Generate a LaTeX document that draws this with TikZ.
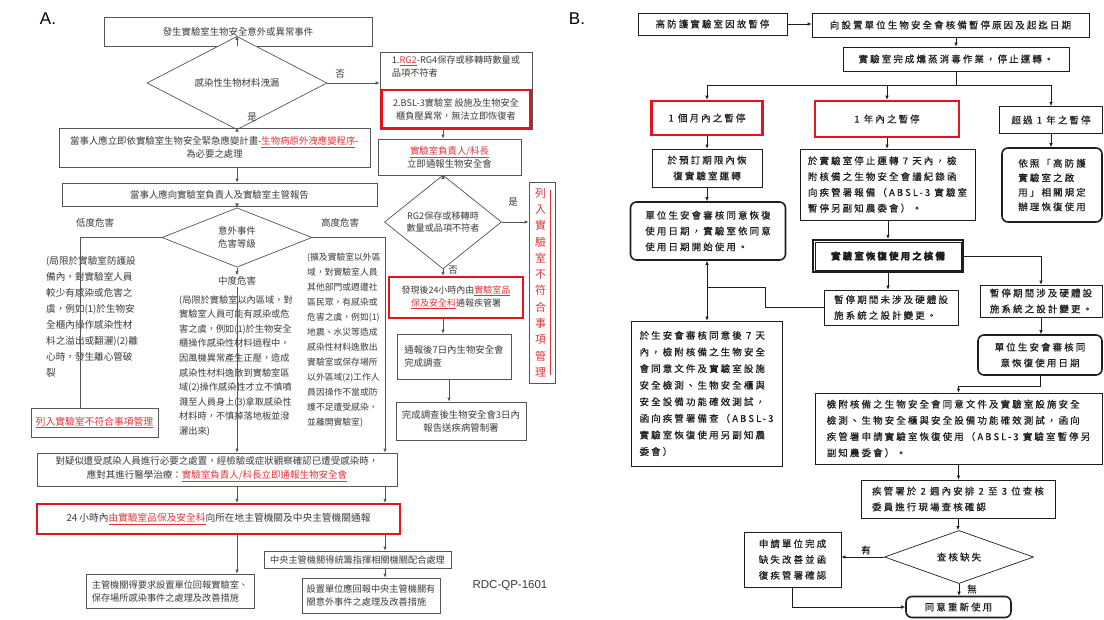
\documentclass[tikz,border=0pt]{standalone}
\usepackage{fontspec}
\setmainfont{Noto Sans CJK TC}
\newfontfamily\bfnt{Noto Sans CJK TC}[LetterSpace=22,FakeBold=0.4]
\newfontfamily\latn{Liberation Sans}
\usetikzlibrary{arrows.meta,shapes.geometric,calc}
\definecolor{redb}{HTML}{E3141B}
\definecolor{redt}{HTML}{E0353B}
\definecolor{tgray}{HTML}{3C3C3C}
\definecolor{lgray}{HTML}{555555}
\definecolor{bink}{HTML}{1E1E1E}
\newcommand{\rdu}[1]{{\color{redt}\underline{#1}}}
\begin{document}
\begin{tikzpicture}[x=1pt,y=-1pt,
 abox/.style={draw=lgray, line width=0.7pt, fill=white, inner sep=1pt, text=tgray, font=\fontsize{9.4}{13}\selectfont, align=center},
 redbox/.style={abox, draw=redb, line width=2.2pt},
 adia/.style={diamond, draw=lgray, line width=0.7pt, fill=white, inner sep=0pt, text=tgray, font=\fontsize{9.4}{13}\selectfont, align=center},
 aarr/.style={draw=lgray, line width=0.7pt, -{Latex[length=4pt,width=3.5pt]}},
 aline/.style={draw=lgray, line width=0.7pt},
 atxt/.style={text=tgray, align=left, inner sep=0pt},
 lbl/.style={text=tgray, font=\fontsize{9.5}{12}\selectfont, inner sep=0pt},
 bbox/.style={draw=bink, line width=0.7pt, fill=white, inner sep=1pt, text=bink, font=\bfnt\fontsize{9.5}{15.8}\selectfont, align=center},
 bred/.style={bbox, draw=redb, line width=2.6pt},
 bround/.style={bbox, rounded corners=6pt, line width=1.6pt},
 bdia/.style={diamond, draw=bink, line width=0.7pt, fill=white, inner sep=0pt, text=bink, font=\bfnt\fontsize{9.5}{15.8}\selectfont},
 barr/.style={draw=bink, line width=0.7pt, -{Latex[length=4pt,width=3.5pt]}},
 bline/.style={draw=bink, line width=0.7pt},
 blbl/.style={text=bink, font=\bfnt\fontsize{9.5}{12}\selectfont, inner sep=0pt}
]
\fill[white] (0,0) rectangle (1104,619);
\useasboundingbox (0,0) rectangle (1104,619);

% ---------------- Panel A ----------------
\node[font=\latn\fontsize{17}{17}\selectfont, text=black] (lblA) at (48,19) {A.};
\node[abox, minimum width=268, minimum height=29] (top) at (238,31.5) {發生實驗室生物安全意外或異常事件};
\node[adia, minimum width=180, minimum height=46] (d1) at (237,83) {感染性生物材料洩漏};
\node[abox, minimum width=152, minimum height=77] (rgout) at (456,90.5) {};
\node[atxt, anchor=north, font=\fontsize{9.2}{12.8}\selectfont] (rg1) at ($(rgout.north)+(0,4)$) {1.\rdu{RG2}-RG4保存或移轉時數量或\\品項不符者};
\node[redbox, minimum width=149, minimum height=38, font=\fontsize{9.2}{13}\selectfont] (rb1) at (456,109) {2.BSL-3實驗室 設施及生物安全\\櫃負壓異常，無法立即恢復者};
\node[abox, minimum width=311, minimum height=39] (act1) at (214.5,147.5) {當事人應立即依實驗室生物安全緊急應變計畫-\rdu{生物病原外洩應變程序}-\\為必要之處理};
\node[abox, minimum width=143, minimum height=36] (chief) at (449.5,157) {\rdu{實驗室負責人/科長}\\立即通報生物安全會};
\node[abox, minimum width=315, minimum height=23] (rep0) at (219.5,194.5) {當事人應向實驗室負責人及實驗室主管報告};
\node[adia, minimum width=150, minimum height=51] (d2) at (237,237.5) {意外事件\\危害等級};
\node[adia, minimum width=117, minimum height=71, font=\fontsize{9.1}{12.6}\selectfont] (d3) at (443,222) {RG2保存或移轉時\\數量或品項不符者};
\node[abox, minimum width=26, minimum height=201] (vert) at (542,282.5) {};
\node[text=redt, font=\fontsize{11}{16.3}\selectfont, align=center, inner sep=0pt] (vtxt) at (540.5,282.5) {列\\入\\實\\驗\\室\\不\\符\\合\\事\\項\\管\\理};
\draw[redt, line width=0.6pt] ($(vert.north east)+(-5.5,8)$) -- ($(vert.south east)+(-5.5,-8)$);
\node[redbox, minimum width=134, minimum height=41, font=\fontsize{9}{13}\selectfont] (r24h) at (456,297.5) {發現後24小時內由\rdu{實驗室品}\\\rdu{保及安全科}通報疾管署};
\node[abox, align=left, minimum width=114, minimum height=45] (inv) at (454,356.5) {通報後7日內生物安全會\\完成調查};
\node[abox, minimum width=130, minimum height=38] (rep) at (461,421) {完成調查後生物安全會3日內\\報告送疾病管制署};
\node[abox, minimum width=127, minimum height=29, font=\fontsize{9.8}{13}\selectfont] (nonc) at (94.5,422.5) {\rdu{列入實驗室不符合事項管理}};

\node[atxt, anchor=north west, font=\fontsize{9.6}{16}\selectfont] (lowt) at (46,256) {(局限於實驗室防護設\\備內，對實驗室人員\\較少有感染或危害之\\虞，例如(1)於生物安\\全櫃內操作感染性材\\料之溢出或翻灑)(2)離\\心時，發生離心管破\\裂};
\node[atxt, anchor=north west, font=\fontsize{9.2}{14.6}\selectfont] (midt) at (179,295) {(局限於實驗室以內區域，對\\實驗室人員可能有感染或危\\害之虞，例如(1)於生物安全\\櫃操作感染性材料過程中，\\因風機異常產生正壓，造成\\感染性材料逸散到實驗室區\\域(2)操作感染性才立不慎噴\\濺至人員身上(3)拿取感染性\\材料時，不慎掉落地板並潑\\灑出來)};
\node[atxt, anchor=north west, font=\fontsize{8.8}{15}\selectfont] (hight) at (307,253) {(擴及實驗室以外區\\域，對實驗室人員\\其他部門或週遭社\\區民眾，有感染或\\危害之虞，例如(1)\\地震、水災等造成\\感染性材料逸散出\\實驗室或保存場所\\以外區域(2)工作人\\員因操作不當或防\\護不足遭受感染，\\並離開實驗室)};

\node[abox, minimum width=360, minimum height=33, font=\fontsize{9.5}{13.5}\selectfont] (inf) at (217,469.5) {對疑似遭受感染人員進行必要之處置，經檢驗或症狀觀察確認已遭受感染時，\\應對其進行醫學治療：\rdu{實驗室負責人/科長立即通報生物安全會}};
\node[redbox, minimum width=363, minimum height=30, font=\fontsize{9.7}{13}\selectfont] (r24) at (218.5,519) {24 小時內\rdu{由實驗室品保及安全科}向所在地主管機關及中央主管機關通報};
\node[abox, align=left, minimum width=168, minimum height=34, font=\fontsize{9.2}{13}\selectfont] (gov1) at (170,591) {主管機關得要求設置單位回報實驗室、\\保存場所感染事件之處理及改善措施};
\node[abox, minimum width=187, minimum height=17, inner sep=0.5pt, font=\fontsize{9.2}{13}\selectfont] (gov2) at (357.5,559.5) {中央主管機關得統籌指揮相關機關配合處理};
\node[abox, align=left, minimum width=138, minimum height=35, font=\fontsize{9.2}{13}\selectfont] (gov3) at (371,595.5) {設置單位應回報中央主管機關有\\關意外事件之處理及改善措施};
\node[font=\latn\fontsize{11.5}{12}\selectfont, text=tgray] (rdc) at (510,586) {RDC-QP-1601};

\node[lbl] (lno1) at (340,74) {否};
\node[lbl] (lyes1) at (252,117) {是};
\node[lbl] (lyes2) at (513,202) {是};
\node[lbl] (lno2) at (453,270) {否};
\node[lbl] (llow) at (95,223) {低度危害};
\node[lbl] (lhigh) at (340,223) {高度危害};
\node[lbl, fill=white, inner sep=1pt] (lmid) at (237,281) {中度危害};

\coordinate (cr) at (443,0);
\coordinate (cr3) at (449,0);
\coordinate (cm) at (237,0);
\coordinate (hl) at (80,237.5);
\coordinate (hr) at (385,237.5);
\draw[aarr] (top.south -| d1.north) -- (d1.north);
\draw[aarr] (d1.east) -- (d1.east -| rgout.west);
\draw[aarr] (d1.south) -- (d1.south |- act1.north);
\draw[aarr] (d1.south |- act1.south) -- (d1.south |- rep0.north);
\draw[aarr] (d2.north |- rep0.south) -- (d2.north);
\draw[aarr] (cr |- rgout.south) -- (cr |- chief.north);
\draw[aarr] (cr |- chief.south) -- (d3.north);
\draw[aarr] (d3.east) -- (d3.east -| vert.west);
\draw[aarr] (d3.south) -- (d3.south |- r24h.north);
\draw[aarr] (cr |- r24h.south) -- (cr |- inv.north);
\draw[aarr] (cr3 |- inv.south) -- (cr3 |- rep.north);
\draw[aline] (d2.west) -- (hl) -- (hl |- nonc.north);
\draw[aarr] (d2.east) -- (hr) -- (hr |- inf.north);
\draw[aarr] (d2.south) -- (lmid.north);
\draw[aarr] (lmid.south) -- (lmid.south |- inf.north);
\draw[aarr] (cm |- inf.south) -- (cm |- r24.north);
\draw[aarr] (hr |- inf.south) -- (hr |- r24.north);
\draw[aarr] (cm |- r24.south) -- (cm |- gov1.north);
\draw[aarr] (hr |- r24.south) -- (hr |- gov2.north);
\draw[aarr] (hr |- gov2.south) -- (hr |- gov3.north);

% ---------------- Panel B ----------------
\node[font=\latn\fontsize{17}{17}\selectfont, text=black] (lblB) at (577,19) {B.};
\node[bbox, minimum width=149, minimum height=22] (B1) at (712.5,24) {高防護實驗室因故暫停};
\node[bbox, minimum width=277, minimum height=24] (B2) at (950.5,25) {向設置單位生物安全會核備暫停原因及起迄日期};
\node[bbox, minimum width=226, minimum height=24] (B3) at (956,59) {實驗室完成燻蒸消毒作業，停止運轉。};
\node[bred, minimum width=111, minimum height=34] (B4) at (707,118) {1 個月內之暫停};
\node[bred, minimum width=144, minimum height=36] (B5) at (887,119) {1 年內之暫停};
\node[bbox, minimum width=103, minimum height=27] (B6) at (1051,120) {超過 1 年之暫停};
\node[bbox, minimum width=110, minimum height=38] (B7) at (707,168) {於預訂期限內恢\\復實驗室運轉};
\node[bround, align=left, minimum width=155, minimum height=58] (B8) at (708,231) {單位生安會審核同意恢復\\使用日期，實驗室依同意\\使用日期開始使用。};
\node[bbox, align=left, minimum width=175, minimum height=71] (B9) at (887.5,184.5) {於實驗室停止運轉 7 天內，檢\\附核備之生物安全會議紀錄函\\向疾管署報備（ABSL-3 實驗室\\暫停另副知農委會）。};
\node[bbox, line width=2.2pt, minimum width=150, minimum height=32, font=\bfnt\bfseries\fontsize{9.5}{15.8}\selectfont] (B10) at (888,256) {實驗室恢復使用之核備};
\draw[bink, line width=0.6pt] ($(B10.north west)+(3,3)$) rectangle ($(B10.south east)+(-3,-3)$);
\node[bround, align=left, minimum width=100, minimum height=74, font=\bfnt\fontsize{9.5}{14.5}\selectfont] (B11) at (1052,185) {依照「高防護\\實驗室之啟\\用」相關規定\\辦理恢復使用};
\node[bbox, align=left, minimum width=134, minimum height=35] (B12) at (891,307.5) {暫停期間未涉及硬體設\\施系統之設計變更。};
\node[bbox, align=left, minimum width=122, minimum height=32] (B13) at (1041,301) {暫停期間涉及硬體設\\施系統之設計變更。};
\node[bbox, align=left, minimum width=151, minimum height=145, font=\bfnt\fontsize{9.5}{16.6}\selectfont] (B14) at (706.5,393.5) {於生安會審核同意後 7 天\\內，檢附核備之生物安全\\會同意文件及實驗室設施\\安全檢測、生物安全櫃與\\安全設備功能確效測試，\\函向疾管署備查（ABSL-3\\實驗室恢復使用另副知農\\委會）};
\node[bround, minimum width=124, minimum height=40] (B15) at (1040,355) {單位生安會審核同\\意恢復使用日期};
\node[bbox, align=left, minimum width=287, minimum height=71, font=\bfnt\fontsize{9.5}{16.2}\selectfont] (B16) at (958.5,428.5) {檢附核備之生物安全會同意文件及實驗室設施安全\\檢測、生物安全櫃與安全設備功能確效測試，函向\\疾管署申請實驗室恢復使用（ABSL-3 實驗室暫停另\\副知農委會）。};
\node[bbox, align=left, minimum width=194, minimum height=38] (B17) at (958,499) {疾管署於 2 週內安排 2 至 3 位查核\\委員進行現場查核確認};
\node[bdia, minimum width=149, minimum height=40] (B18) at (959,557) {查核缺失};
\node[bbox, align=left, minimum width=97, minimum height=55] (B19) at (792.5,559.5) {申請單位完成\\缺失改善並函\\復疾管署確認};
\node[bround, minimum width=105, minimum height=21] (B20) at (958.5,607) {同意重新使用};
\node[blbl] (lyes3) at (866,550) {有};
\node[blbl] (lno3) at (972,589) {無};

\coordinate (bj) at (956,85);
\coordinate (j1) at (707,287);
\coordinate (j2) at (765,287);
\draw[barr] (B1.east) -- (B1.east -| B2.west);
\draw[barr] (B3.north |- B2.south) -- (B3.north);
\draw[bline] (B3.south) -- (bj);
\draw[bline] (bj -| B4.north) -- (bj -| B6.north);
\draw[barr] (bj -| B4.north) -- (B4.north);
\draw[barr] (bj -| B5.north) -- (B5.north);
\draw[barr] (bj -| B6.north) -- (B6.north);
\draw[barr] (B4.south) -- (B7.north);
\draw[barr] (B7.south) -- (B7.south |- B8.north);
\draw[barr] (B5.south) -- (B5.south |- B9.north);
\draw[barr] (B10.north |- B9.south) -- (B10.north);
\draw[barr] (B6.south) -- (B6.south |- B11.north);
\draw[barr] (B10.south) -- (B10.south |- B12.north);
\draw[barr] (B10.east) -| (B13.north);
\draw[bline] (B12.west) -| (j2) -- (j1);
\draw[barr] (j1) -- (j1 |- B8.south);
\draw[barr] (j1) -- (j1 |- B14.north);
\draw[barr] (B13.south) -- (B13.south |- B15.north);
\draw[barr] (B15.south) -- ++(0,11) -| (B16.north);
\draw[barr] (B16.south) -- (B16.south |- B17.north);
\draw[barr] (B17.south) -- (B17.south |- B18.north);
\draw[barr] (B18.west) -- (B18.west -| B19.east);
\draw[barr] (B18.south) -- (B18.south |- B20.north);
\draw[barr] (B19.south) |- (B20.west);
\end{tikzpicture}
\end{document}
